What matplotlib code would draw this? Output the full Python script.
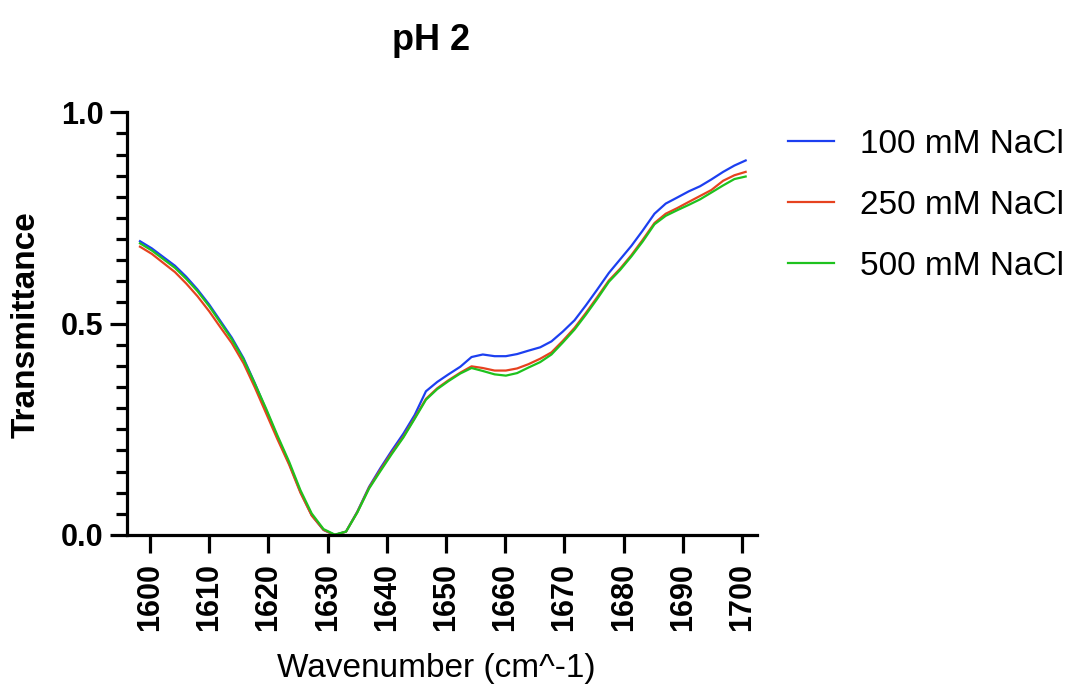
import matplotlib
matplotlib.use("Agg")
import matplotlib.pyplot as plt
from matplotlib.ticker import MultipleLocator, FormatStrFormatter

plt.rcParams['font.family'] = ['Liberation Sans', 'DejaVu Sans']

# FTIR amide I region, pH 2
wavenumber = [
    1598.3, 1600.3, 1602.2, 1604.2, 1606.1, 1608.0, 1610.0, 1611.9, 1613.8, 1615.8,
    1617.7, 1619.6, 1621.5, 1623.5, 1625.4, 1627.3, 1629.3, 1631.2, 1633.1, 1635.0,
    1637.0, 1638.9, 1640.8, 1642.8, 1644.7, 1646.6, 1648.5, 1650.4, 1652.4, 1654.3,
    1656.2, 1658.2, 1660.1, 1662.0, 1663.9, 1665.9, 1667.8, 1669.7, 1671.7, 1673.6,
    1675.5, 1677.5, 1679.4, 1681.3, 1683.2, 1685.2, 1687.1, 1689.0, 1691.0, 1692.9,
    1694.8, 1696.8, 1698.7, 1700.6,
]
t_100 = [
    0.695, 0.678, 0.658, 0.637, 0.611, 0.581, 0.545, 0.506, 0.467, 0.418,
    0.359, 0.296, 0.232, 0.169, 0.102, 0.047, 0.012, 0.000, 0.008, 0.055,
    0.114, 0.158, 0.199, 0.240, 0.284, 0.340, 0.362, 0.380, 0.398, 0.421,
    0.427, 0.423, 0.423, 0.428, 0.436, 0.444, 0.458, 0.481, 0.508, 0.543,
    0.580, 0.620, 0.652, 0.684, 0.720, 0.760, 0.784, 0.798, 0.813, 0.825,
    0.841, 0.859, 0.874, 0.886,
]
t_250 = [
    0.682, 0.665, 0.644, 0.622, 0.595, 0.565, 0.529, 0.491, 0.454, 0.406,
    0.349, 0.288, 0.227, 0.166, 0.100, 0.046, 0.012, 0.000, 0.008, 0.054,
    0.112, 0.154, 0.194, 0.233, 0.277, 0.322, 0.347, 0.366, 0.384, 0.399,
    0.395, 0.389, 0.389, 0.394, 0.404, 0.417, 0.432, 0.459, 0.490, 0.525,
    0.562, 0.602, 0.630, 0.662, 0.698, 0.738, 0.760, 0.773, 0.788, 0.802,
    0.816, 0.838, 0.851, 0.859,
]
t_500 = [
    0.690, 0.673, 0.653, 0.632, 0.606, 0.577, 0.541, 0.502, 0.463, 0.415,
    0.358, 0.299, 0.236, 0.173, 0.106, 0.051, 0.014, 0.001, 0.008, 0.053,
    0.110, 0.151, 0.191, 0.231, 0.275, 0.320, 0.345, 0.364, 0.382, 0.395,
    0.388, 0.380, 0.377, 0.383, 0.396, 0.409, 0.427, 0.455, 0.486, 0.521,
    0.558, 0.599, 0.627, 0.659, 0.694, 0.735, 0.755, 0.768, 0.781, 0.794,
    0.810, 0.827, 0.842, 0.848,
]
series = [
    ("100 mM NaCl", t_100, "#1c3ff0"),
    ("250 mM NaCl", t_250, "#e6421f"),
    ("500 mM NaCl", t_500, "#1ec21e"),
]

fig = plt.figure(figsize=(10.75, 6.93), dpi=100)
ax = fig.add_axes([0.1181, 0.228, 0.586, 0.610])

for name, vals, col in series:
    ax.plot(wavenumber, vals, color=col, lw=1.6, label=name)

ax.set_xlim(1596.1, 1702.5)
ax.set_ylim(0, 1.0)
ax.xaxis.set_major_locator(MultipleLocator(10))
ax.yaxis.set_major_locator(MultipleLocator(0.5))
ax.yaxis.set_minor_locator(MultipleLocator(0.05))
ax.yaxis.set_major_formatter(FormatStrFormatter("%.1f"))

for side in ("top", "right"):
    ax.spines[side].set_visible(False)
for side in ("left", "bottom"):
    ax.spines[side].set_linewidth(2.3)

ax.tick_params(axis="x", which="major", length=13, width=2.3, pad=7,
               labelsize=22)
ax.tick_params(axis="y", which="major", length=12, width=2.3, pad=5,
               labelsize=22)
ax.tick_params(axis="y", which="minor", length=8, width=2.3)
for lab in ax.get_xticklabels():
    lab.set_rotation(90)
    lab.set_fontweight("bold")
for lab in ax.get_yticklabels():
    lab.set_fontweight("bold")

fig.text(431 / 1075, 1 - 40 / 693, "pH 2", ha="center", va="center",
         fontsize=26, fontweight="bold")
fig.text(26 / 1075, 1 - 325 / 693, "Transmittance", rotation=90,
         ha="center", va="center", fontsize=24, fontweight="bold")
fig.text(436 / 1075, 1 - 668 / 693, "Wavenumber (cm^-1)",
         ha="center", va="center", fontsize=24)

ax.legend(loc="upper left", bbox_to_anchor=(788 / 1075, 1 - 129 / 693),
          bbox_transform=fig.transFigure, frameon=False, fontsize=24,
          handlelength=1.38, handletextpad=0.78, labelspacing=0.9,
          borderpad=0, borderaxespad=0)

fig.savefig("out.png", dpi=100)
